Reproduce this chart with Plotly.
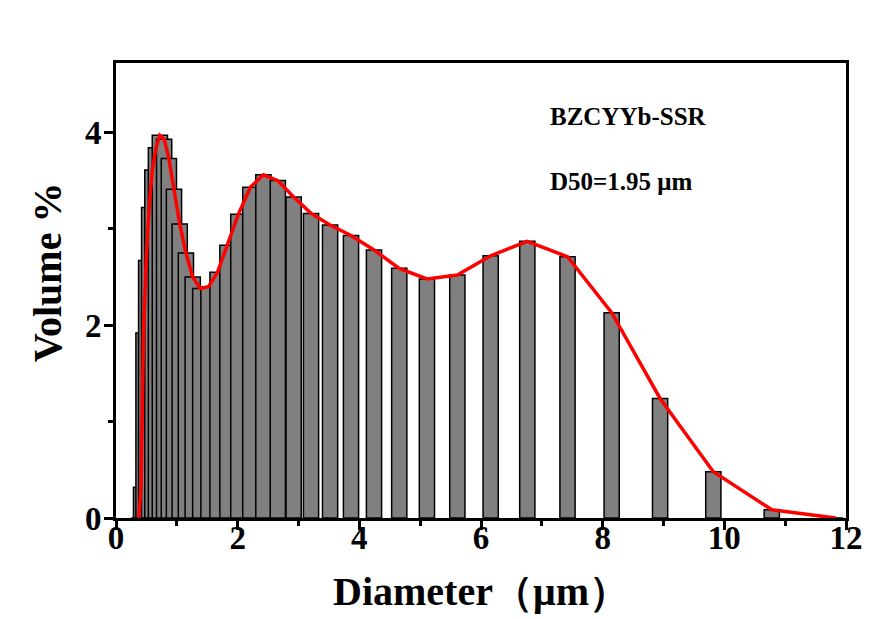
import plotly.graph_objects as go

# Channel diameters (µm) and volume percentages
diameter = [0.375, 0.412, 0.452, 0.496, 0.545, 0.598, 0.657, 0.721, 0.791, 0.869,
            0.953, 1.047, 1.149, 1.261, 1.385, 1.520, 1.669, 1.832, 2.011, 2.208,
            2.423, 2.660, 2.920, 3.206, 3.519, 3.863, 4.241, 4.656, 5.111, 5.611,
            6.159, 6.761, 7.422, 8.148, 8.944, 9.819, 10.78, 11.83]
volume = [0.0, 0.32, 1.92, 2.67, 3.22, 3.61, 3.84, 3.97, 3.93, 3.73,
          3.41, 3.05, 2.75, 2.50, 2.38, 2.40, 2.55, 2.83, 3.15, 3.43,
          3.56, 3.50, 3.33, 3.16, 3.04, 2.93, 2.78, 2.59, 2.48, 2.52,
          2.72, 2.87, 2.71, 2.13, 1.24, 0.48, 0.085, 0.0]

sample_label = "BZCYYb-SSR"
d50_label = "D50=1.95 μm"
x_title = "Diameter（μm）"
y_title = "Volume %"

FONT = "Liberation Serif, Times New Roman, serif"

W, H = 883, 619
ML, MR, MT, MB = 116, 37, 63, 95
pw = W - ML - MR
ph = H - MT - MB

fig = go.Figure()
fig.add_trace(go.Bar(
    x=diameter, y=volume, width=0.25,
    marker=dict(color="#808080", line=dict(color="black", width=1.5)),
    showlegend=False, hoverinfo="skip"))
fig.add_trace(go.Scatter(
    x=diameter, y=volume, mode="lines",
    line=dict(color="#ff0000", width=3.5),
    showlegend=False))

axis_common = dict(
    showline=True, linewidth=3, linecolor="black", mirror=True,
    showgrid=False, zeroline=False,
    ticks="outside", tickwidth=2.5, ticklen=9, tickcolor="black",
    tickfont=dict(family=FONT, size=33, color="black", weight="bold"),
)

fig.update_layout(
    width=W, height=H,
    margin=dict(l=ML, r=MR, t=MT, b=MB),
    paper_bgcolor="white", plot_bgcolor="white",
    xaxis=dict(range=[0, 12], tick0=0, dtick=2, ticklabelstandoff=-21,
               minor=dict(dtick=1, ticks="outside", ticklen=5, tickwidth=2.5, tickcolor="black"),
               title=dict(text=x_title, standoff=23,
                          font=dict(family=FONT, size=40, color="black", weight="bold")),
               **axis_common),
    yaxis=dict(range=[0, 4.72], tick0=0, dtick=2, ticklabelstandoff=-4,
               minor=dict(dtick=1, ticks="outside", ticklen=5, tickwidth=2.5, tickcolor="black"),
               **axis_common),
    annotations=[
        dict(x=(47 - ML) / pw, y=(H - MB - 275) / ph, xref="paper", yref="paper",
             text=y_title, showarrow=False,
             textangle=-90, xanchor="center", yanchor="middle",
             font=dict(family=FONT, size=40, color="black", weight="bold")),
        dict(x=7.1, y=4.17, xref="x", yref="y", text=sample_label, showarrow=False,
             xanchor="left", yanchor="middle",
             font=dict(family=FONT, size=25, color="black", weight="bold")),
        dict(x=7.1, y=3.49, xref="x", yref="y", text=d50_label, showarrow=False,
             xanchor="left", yanchor="middle",
             font=dict(family=FONT, size=25, color="black", weight="bold")),
    ],
)

fig.write_html("out.html")
